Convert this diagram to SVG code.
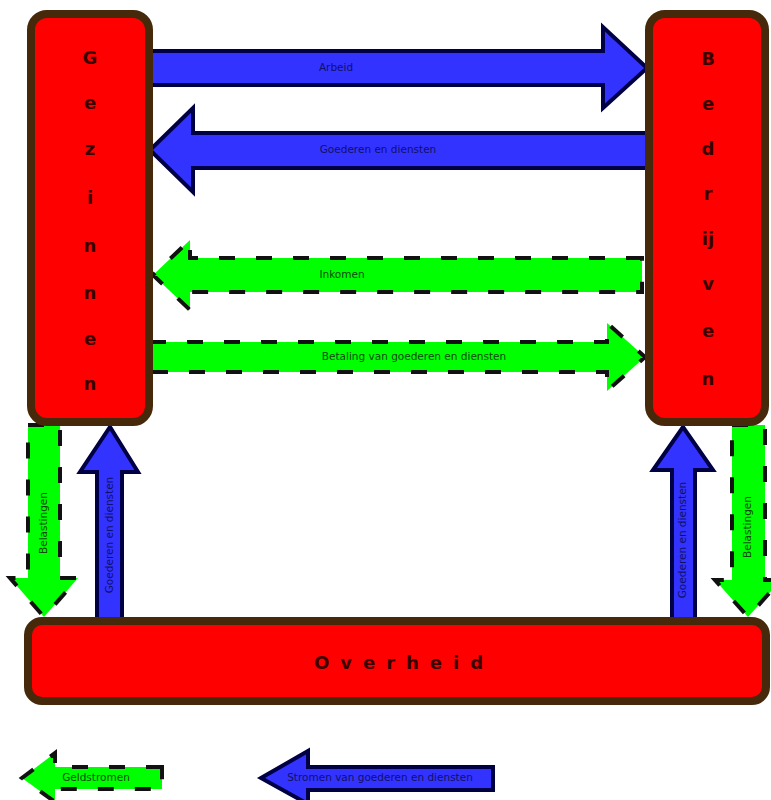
<svg xmlns="http://www.w3.org/2000/svg" width="771" height="800" viewBox="0 0 771 800">
<style>
.box{fill:#ff0000;stroke:#45290a;stroke-width:8}
.big{font-family:"DejaVu Sans",sans-serif;font-weight:bold;font-size:18px;fill:#3a0000;text-anchor:middle}
.blue{fill:#3333ff;stroke:#000044;stroke-width:4;stroke-linejoin:miter}
.green{fill:#00ff00;stroke:#111;stroke-width:4;stroke-dasharray:16 21}
.lb{font-family:"DejaVu Sans",sans-serif;font-size:10.5px;fill:#10106a;text-anchor:middle;dominant-baseline:middle}
.lg{font-family:"DejaVu Sans",sans-serif;font-size:10.5px;fill:#0a4a0a;text-anchor:middle;dominant-baseline:middle}
</style>
<rect width="771" height="800" fill="#ffffff"/>
<g id="connectors">
  <g id="arbeid"><path class="blue" d="M150,51 L603,51 L603,27 L647,68 L603,108 L603,85 L150,85 Z"/><text class="lb" x="336" y="68">Arbeid</text></g>
  <g id="goederen"><path class="blue" d="M648,133 L193,133 L193,108 L150,150 L193,192 L193,168 L648,168 Z"/><text class="lb" x="378" y="150">Goederen en diensten</text></g>
  <g id="inkomen"><path class="green" d="M642,258 L190,258 L190,240 L153,275 L190,310 L190,292 L642,292 Z"/><text class="lg" x="342" y="275">Inkomen</text></g>
  <g id="betaling"><path class="green" d="M150,342 L607,342 L607,323 L645,357 L607,391 L607,372 L150,372 Z"/><text class="lg" x="414" y="357">Betaling van goederen en diensten</text></g>
  <g id="belasting-gezinnen"><path class="green" d="M28,425 L60,425 L60,578 L78,578 L44,617 L10,578 L28,578 Z"/><text class="lg" transform="translate(44,523) rotate(-90)">Belastingen</text></g>
  <g id="goederen-overheid-gezinnen"><path class="blue" d="M97,620 L97,472 L80,472 L110,427 L138,472 L122,472 L122,620 Z"/><text class="lb" transform="translate(110,535) rotate(-90)">Goederen en diensten</text></g>
  <g id="goederen-bedrijven-overheid"><path class="blue" d="M672,620 L672,470 L653,470 L683,427 L713,470 L695,470 L695,620 Z"/><text class="lb" transform="translate(683,540) rotate(-90)">Goederen en diensten</text></g>
  <g id="belasting-bedrijven"><path class="green" d="M732,425 L765,425 L765,580 L781,580 L748,617 L715,580 L732,580 Z"/><text class="lg" transform="translate(748,527) rotate(-90)">Belastingen</text></g>
</g>
<g id="gezinnen">
  <rect class="box" x="31" y="14" width="118" height="408" rx="16"/>
  <text class="big" x="90" y="64">G</text>
  <text class="big" x="90" y="109">e</text>
  <text class="big" x="90" y="155">z</text>
  <text class="big" x="90" y="204">i</text>
  <text class="big" x="90" y="252">n</text>
  <text class="big" x="90" y="299">n</text>
  <text class="big" x="90" y="345">e</text>
  <text class="big" x="90" y="390">n</text>
</g>
<g id="bedrijven">
  <rect class="box" x="649" y="14" width="116" height="408" rx="16"/>
  <text class="big" x="708" y="65">B</text>
  <text class="big" x="708" y="110">e</text>
  <text class="big" x="708" y="155">d</text>
  <text class="big" x="708" y="200">r</text>
  <text class="big" x="708" y="245">ij</text>
  <text class="big" x="708" y="290">v</text>
  <text class="big" x="708" y="337">e</text>
  <text class="big" x="708" y="385">n</text>
</g>
<g id="overheid">
  <rect class="box" x="28" y="621" width="738" height="80" rx="14"/>
  <text class="big" x="404" y="669" font-size="21" letter-spacing="11">Overheid</text>
</g>
<g id="legend">
  <g id="legend-geld"><path class="green" d="M162,767 L55,767 L55,753 L22,778 L55,802 L55,789 L162,789 Z"/><text class="lg" x="96" y="778">Geldstromen</text></g>
  <g id="legend-goederen"><path class="blue" d="M493,767 L308,767 L308,751 L261,778 L308,804 L308,790 L493,790 Z"/><text class="lb" x="380" y="778">Stromen van goederen en diensten</text></g>
</g>
</svg>
